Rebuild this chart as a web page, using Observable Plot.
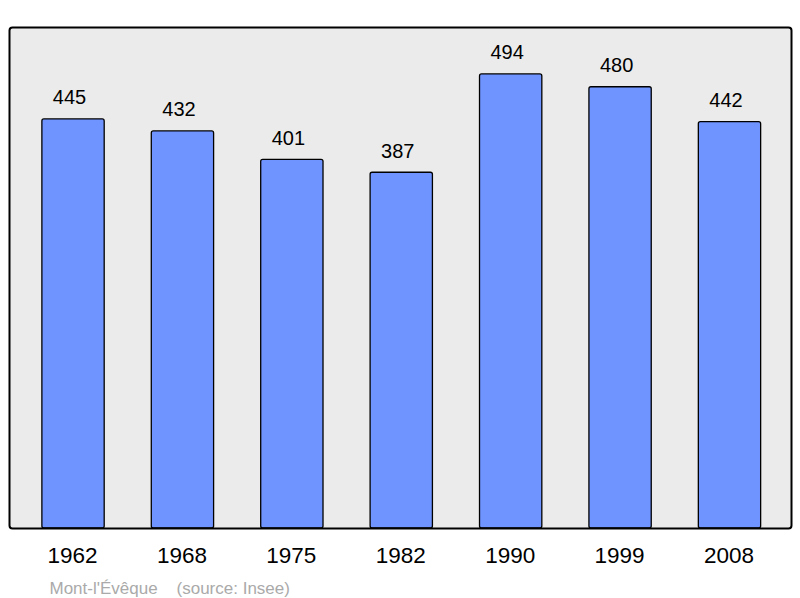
<!DOCTYPE html>
<html>
<head>
<meta charset="utf-8">
<script src="https://cdn.jsdelivr.net/npm/d3@7"></script>
<script src="https://cdn.jsdelivr.net/npm/@observablehq/plot@0.6"></script>
<style>
  html, body { margin: 0; padding: 0; background: #fff; }
  #chart svg { display: block; font-family: "Liberation Sans", Arial, sans-serif; }
</style>
</head>
<body>
<div id="chart"></div>
<script>
const years = ["1962", "1968", "1975", "1982", "1990", "1999", "2008"];
const population = [445, 432, 401, 387, 494, 480, 442];
const place = "Mont-l'Évêque";
const source = "(source: Insee)";

const data = years.map((y, i) => ({year: y, value: population[i]}));

const chart = Plot.plot({
  width: 800,
  height: 598,
  marginLeft: 9,
  marginRight: 9,
  marginTop: 27,
  marginBottom: 70,
  style: {background: "#fff", fontFamily: "Liberation Sans, Arial, sans-serif"},
  x: {domain: years, paddingInner: 0.4305, paddingOuter: 0.289, align: 0.52, round: false, axis: null},
  y: {domain: [0, 545], axis: null},
  marks: [
    Plot.frame({fill: "#ebebeb", stroke: "none", rx: 3}),
    Plot.barY(data, {x: "year", y: "value", fill: "#7094ff", stroke: "#000", strokeWidth: 1.3, rx: 2}),
    Plot.frame({stroke: "#000", strokeWidth: 2, rx: 3}),
    Plot.text(data, {x: "year", y: "value", text: d => String(d.value), dy: -15, dx: -4, lineAnchor: "bottom", fontSize: 20, fill: "#000"}),
    Plot.text(data, {x: "year", y: 0, text: "year", dy: 18.5, dx: -1, lineAnchor: "top", fontSize: 22.5, fill: "#000"}),
    Plot.text([place + "    " + source], {frameAnchor: "bottom-left", text: d => d, dx: 40, dy: 53, lineAnchor: "top", textAnchor: "start", fontSize: 17, fill: "#aaaaaa"})
  ]
});
document.getElementById("chart").appendChild(chart);
</script>
</body>
</html>
